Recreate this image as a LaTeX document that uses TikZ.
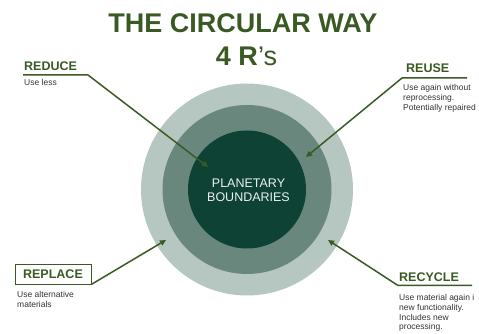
\documentclass[tikz,border=0pt]{standalone}
\usepackage{fontspec}
\setmainfont{Liberation Sans}
\usetikzlibrary{arrows.meta}

\definecolor{leafgreen}{HTML}{3A5A24}
\definecolor{ringlight}{HTML}{B6C6C1}
\definecolor{ringmid}{HTML}{6A877E}
\definecolor{coredark}{HTML}{0D4234}
\definecolor{bodygray}{HTML}{333333}

\tikzset{
  rtitle/.style={font=\bfseries\fontsize{12.5}{14}\selectfont, text=leafgreen, inner sep=0pt, anchor=base west},
  rnote/.style={font=\fontsize{8.5}{9.6}\selectfont, text=bodygray, align=left, inner sep=0pt, anchor=north west},
  rlink/.style={draw=leafgreen, line width=1.5pt, line join=round, -{Triangle[length=6pt,width=5.5pt]}},
}

\begin{document}
\begin{tikzpicture}[x=1pt,y=1pt]
  \useasboundingbox (0,0) rectangle (479,334);

  % rings
  \fill[ringlight] (247,144.5) circle (106pt);
  \fill[ringmid] (247,144.5) circle (84.5pt);
  \node[circle, fill=coredark, minimum size=118pt, inner sep=0pt] (core) at (247,144.5) {};
  \node[font=\fontsize{12.5}{14}\selectfont, text=white!92!coredark, align=center, inner sep=0pt] (planet)
    at (248.5,143.5) {PLANETARY\\BOUNDARIES};

  % heading
  \node[anchor=base, font=\bfseries\fontsize{27}{30}\selectfont, text=leafgreen, inner sep=0pt] (head)
    at (243,301) {THE CIRCULAR WAY};
  \node[anchor=base, font=\bfseries\fontsize{27}{30}\selectfont, text=leafgreen, inner sep=0pt] (subhead)
    at (246.5,268) {4 R{\mdseries ’s}};

  % reduce
  \node[rtitle] (reduce) at (24,263) {REDUCE};
  \node[rnote] (reduce-note) at (24,254.5) {Use less};
  \coordinate (reduce-start) at (23,259);
  \coordinate (reduce-bend) at (88,259);
  \coordinate (reduce-end) at (208,167);
  \draw[rlink] (reduce-start) -- (reduce-bend) -- (reduce-end);

  % reuse
  \node[rtitle] (reuse) at (406,261) {REUSE};
  \node[rnote] (reuse-note) at (403,249.5) {Use again without\\reprocessing.\\Potentially repaired};
  \coordinate (reuse-start) at (467,256);
  \coordinate (reuse-bend) at (402,256);
  \coordinate (reuse-end) at (306,177);
  \draw[rlink] (reuse-start) -- (reuse-bend) -- (reuse-end);

  % replace
  \node[font=\bfseries\fontsize{12.5}{14}\selectfont, text=leafgreen, draw=leafgreen, line width=0.8pt,
    minimum width=76pt, minimum height=20pt, inner sep=0pt] (replace) at (53,60) {REPLACE};
  \node[rnote] (replace-note) at (17,42.5) {Use alternative\\materials};
  \coordinate (replace-end) at (166,94);
  \draw[rlink] (replace.south east) -- (replace-end);

  % recycle
  \node[rtitle] (recycle) at (399,52) {RECYCLE};
  \node[rnote] (recycle-note) at (399,39.5) {Use material again i\\new functionality.\\Includes new\\processing.};
  \coordinate (recycle-start) at (472,48.5);
  \coordinate (recycle-bend) at (398,48.5);
  \coordinate (recycle-end) at (328,94);
  \draw[rlink] (recycle-start) -- (recycle-bend) -- (recycle-end);
\end{tikzpicture}
\end{document}
